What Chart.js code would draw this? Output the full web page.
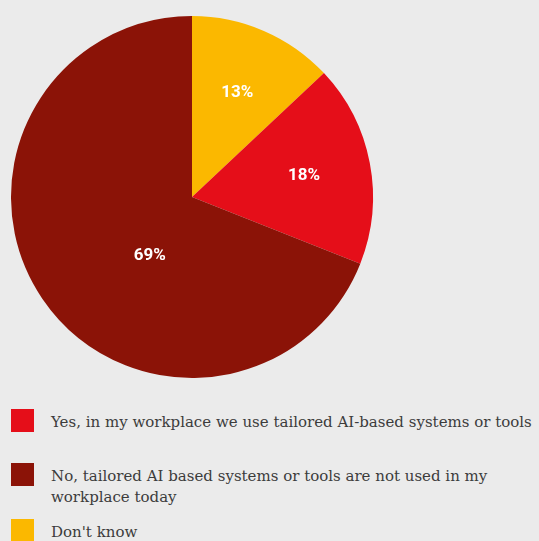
<!DOCTYPE html>
<html>
<head>
<meta charset="utf-8">
<script src="https://cdn.jsdelivr.net/npm/chart.js@4.4.1/dist/chart.umd.min.js"></script>
<style>
  html, body { margin: 0; padding: 0; background: #ebebeb; width: 539px; height: 541px; overflow: hidden; }
  #wrap { position: absolute; left: 0; top: 0; width: 384px; height: 394px; }
  #legend { position: absolute; left: 11px; top: 409px; font-family: "DejaVu Serif", serif; font-size: 15px; color: #3c3c3c; }
  .item { position: absolute; left: 0; white-space: nowrap; }
  .box { position: absolute; left: 0; top: 0; width: 23px; height: 23px; }
  .txt { position: absolute; left: 40px; top: 3px; line-height: 21px; }
</style>
</head>
<body>
<div id="wrap"><canvas id="pieChart"></canvas></div>
<div id="legend"></div>
<script>
// Share of respondents using tailored AI tools at work
const categories = [
    "Don't know",
    ['Yes, in my workplace we use tailored AI-based systems or tools'],
    ['No, tailored AI based systems or tools are not used in my', 'workplace today']
];
const values = [13, 18, 69];
const colors = ['#fbb800', '#e50e19', '#8b1307'];

// legend order as in the picture
const legendOrder = [1, 2, 0];
const legendTops = [0, 54, 110];

// draw the % numbers inside the slices
const sliceLabels = {
    id: 'sliceLabels',
    afterDatasetsDraw(chart) {
        const ctx = chart.ctx;
        const meta = chart.getDatasetMeta(0);
        ctx.save();
        ctx.fillStyle = '#fff';
        ctx.font = 'bold 17px Roboto';
        ctx.textAlign = 'center';
        ctx.textBaseline = 'middle';
        meta.data.forEach(function (arc, i) {
            let mid = (arc.startAngle + arc.endAngle) / 2;
            let r = arc.outerRadius * 0.63;
            if (values[i] > 50) { mid -= 0.35; r = arc.outerRadius * 0.4; }
            const x = arc.x + Math.cos(mid) * r;
            const y = arc.y + Math.sin(mid) * r;
            ctx.fillText(values[i] + '%', x, y);
        });
        ctx.restore();
    }
};

document.addEventListener('DOMContentLoaded', function () {
    const ctx = document.getElementById('pieChart').getContext('2d');
    new Chart(ctx, {
        type: 'pie',
        data: {
            labels: categories,
            datasets: [{
                data: values,
                backgroundColor: colors,
                borderWidth: 0
            }]
        },
        options: {
            responsive: true,
            maintainAspectRatio: false,
            animation: false,
            layout: { padding: 11 },
            plugins: {
                legend: { display: false },
                tooltip: { enabled: false }
            }
        },
        plugins: [sliceLabels]
    });

    const legend = document.getElementById('legend');
    legendOrder.forEach(function (idx, k) {
        const item = document.createElement('div');
        item.className = 'item';
        item.style.top = legendTops[k] + 'px';
        const box = document.createElement('div');
        box.className = 'box';
        box.style.background = colors[idx];
        const txt = document.createElement('div');
        txt.className = 'txt';
        const lab = categories[idx];
        txt.innerHTML = (Array.isArray(lab) ? lab : [lab]).join('<br>');
        item.appendChild(box);
        item.appendChild(txt);
        legend.appendChild(item);
    });
});
</script>
</body>
</html>
